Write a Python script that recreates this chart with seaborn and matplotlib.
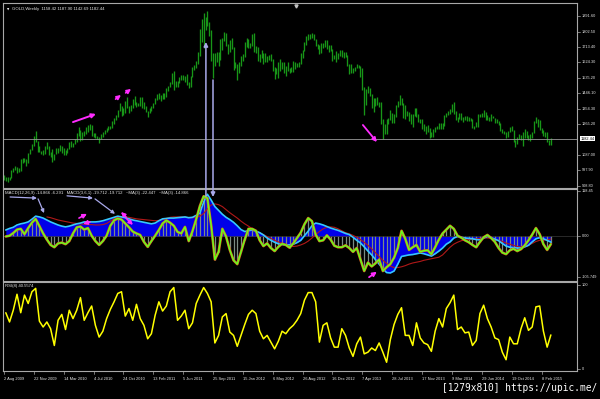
import numpy as np
import matplotlib
matplotlib.use("Agg")
import matplotlib.pyplot as plt
import seaborn as sns
from matplotlib.patches import ConnectionPatch

# ---------------- data ----------------
header_price = "GOLD,Weekly  1158.42 1187.90 1142.69 1182.44"
header_macd = "MACD(12,26,9) -14.866 -6.291   MACD(3,6,1) -19.712 -19.712   ~MA(3) -22.447   ~MA(3) -14.866"
header_rsi = "RSI(8) 40.5574"
current_price = 1182.44

# weekly bars, one per week starting week of 2 Aug 2009
lows = [940, 937, 931, 942, 952, 987, 998, 985, 990, 997, 1039, 1044, 1025, 1043, 1090, 1115, 1140, 1160, 1103, 1106, 1094,
        1088, 1095, 1120, 1086, 1075, 1045, 1058, 1090, 1096, 1112, 1100, 1086, 1088, 1101, 1122, 1132, 1132, 1152, 1163, 1195,
        1166, 1175, 1199, 1209, 1220, 1230, 1200, 1192, 1185, 1178, 1157, 1180, 1192, 1210, 1221, 1232, 1237, 1242, 1267, 1290,
        1310, 1340, 1316, 1318, 1330, 1362, 1329, 1340, 1358, 1375, 1366, 1369, 1374,
        1360, 1352, 1336, 1309, 1331, 1340, 1358, 1384, 1405, 1412, 1403, 1414, 1413, 1426, 1456, 1482, 1501, 1462, 1480, 1479,
        1507, 1520, 1522, 1510, 1495, 1478, 1481, 1540, 1581, 1592, 1616, 1660, 1742, 1705, 1811, 1835, 1780, 1630, 1534, 1603,
        1628, 1605, 1637, 1695, 1746, 1717, 1672, 1684, 1703, 1580, 1589, 1523,
        1563, 1605, 1631, 1653, 1714, 1705, 1705, 1722, 1687, 1680, 1635, 1627, 1650, 1612, 1628, 1626, 1639, 1633, 1575, 1527,
        1554, 1532, 1576, 1586, 1562, 1547, 1575, 1564, 1571, 1569, 1585, 1599, 1598, 1613, 1648, 1688, 1725, 1756, 1760, 1768,
        1752, 1717, 1700, 1672, 1676, 1706, 1713, 1704, 1683, 1690, 1635, 1645,
        1626, 1645, 1664, 1655, 1650, 1655, 1603, 1555, 1565, 1563, 1575, 1590, 1591, 1540, 1463, 1321, 1375, 1445, 1427, 1359,
        1338, 1372, 1377, 1366, 1269, 1180, 1207, 1211, 1268, 1292, 1270, 1275, 1309, 1364, 1375, 1379, 1304, 1294, 1314, 1283,
        1268, 1251, 1313, 1310, 1277, 1271, 1240, 1227, 1211, 1221, 1185, 1192,
        1194, 1218, 1237, 1236, 1237, 1240, 1258, 1307, 1320, 1324, 1336, 1326, 1290, 1277, 1298, 1292, 1277, 1291, 1285, 1282,
        1284, 1246, 1240, 1250, 1251, 1308, 1310, 1305, 1292, 1288, 1282, 1286, 1299, 1273, 1275, 1260, 1229, 1214, 1207, 1183,
        1189, 1218, 1226, 1161, 1131, 1150, 1180, 1174, 1142, 1187, 1187, 1173,
        1167, 1186, 1216, 1275, 1252, 1232, 1217, 1197, 1191, 1164, 1147, 1142.69]
highs = [972, 961, 959, 962, 999, 1011, 1025, 1017, 1011, 1063, 1072, 1070, 1065, 1100, 1124, 1153, 1195, 1226, 1168, 1142, 1113,
         1116, 1140, 1162, 1139, 1102, 1123, 1095, 1125, 1128, 1145, 1138, 1128, 1114, 1130, 1163, 1169, 1159, 1182, 1212, 1249,
         1232, 1219, 1227, 1250, 1262, 1265, 1262, 1214, 1216, 1200, 1193, 1211, 1219, 1233, 1242, 1255, 1258, 1283, 1300, 1321,
         1349, 1387, 1371, 1360, 1398, 1424, 1372, 1378, 1410, 1431, 1394, 1390, 1424,
         1423, 1394, 1372, 1345, 1360, 1370, 1391, 1420, 1440, 1445, 1436, 1447, 1448, 1476, 1488, 1509, 1563, 1577, 1518, 1514,
         1539, 1549, 1549, 1546, 1556, 1510, 1544, 1598, 1610, 1632, 1682, 1815, 1877, 1912, 1885, 1921, 1860, 1814, 1680, 1676,
         1687, 1685, 1760, 1767, 1803, 1794, 1731, 1755, 1765, 1716, 1624, 1614,
         1626, 1661, 1672, 1740, 1764, 1760, 1738, 1790, 1792, 1717, 1715, 1673, 1695, 1679, 1677, 1661, 1668, 1673, 1645, 1597,
         1594, 1627, 1641, 1629, 1628, 1605, 1627, 1594, 1598, 1630, 1626, 1623, 1625, 1676, 1694, 1741, 1777, 1790, 1788, 1796,
         1788, 1760, 1730, 1725, 1737, 1738, 1754, 1754, 1724, 1723, 1699, 1667,
         1693, 1680, 1695, 1697, 1683, 1684, 1669, 1612, 1617, 1590, 1596, 1616, 1611, 1604, 1590, 1480, 1469, 1488, 1477, 1438,
         1416, 1417, 1424, 1392, 1397, 1298, 1268, 1297, 1300, 1348, 1333, 1324, 1379, 1400, 1434, 1420, 1390, 1375, 1345, 1338,
         1325, 1326, 1361, 1361, 1323, 1295, 1293, 1264, 1255, 1261, 1245, 1218,
         1240, 1250, 1256, 1271, 1275, 1270, 1321, 1332, 1345, 1355, 1385, 1392, 1340, 1308, 1331, 1331, 1306, 1315, 1315, 1306,
         1300, 1295, 1257, 1277, 1322, 1325, 1332, 1346, 1339, 1320, 1310, 1322, 1316, 1304, 1293, 1287, 1272, 1236, 1225, 1222,
         1228, 1249, 1255, 1233, 1176, 1191, 1207, 1205, 1221, 1238, 1225, 1205,
         1208, 1223, 1282, 1307, 1296, 1288, 1242, 1233, 1220, 1222, 1175, 1187.90]

# indicator values, one every second week (weeks 1, 3, 5, ...)
macd_fast = [0, 2, 9, 18, 20, 6, 22, 36, 46, 27, 8, -8, -22, -28, -18, -16, -20, -12, 8, 24,
             26, 18, 22, 2, -12, -22, -12, 2, 28, 42, 47, 44, 34, 24, 13, 8, 4, -14, -27, -12,
             2, 17, 34, 42, 36, 28, 12, 8, 25, -12, 14, 45, 80, 105, 100, 30, -60, -40, 20, 0,
             -35, -62, -72, -40, -8, 20, 20, 15, -10, -25, -18, -30, -38, -27, -19, -22, -29, -18, -4, 10,
             32, 48, 40, 5, -12, -10, 3, -8, -24, -28, -28, -23, -30, -40, -30, -60, -90, -68, -78, -70,
             -60, -90, -80, -72, -55, -30, 15, -6, -35, -28, -22, -40, -37, -36, -46, -28, -8, 8, 18, 28,
             20, 2, -3, -10, -15, -22, -28, -14, -2, 4, -4, -14, -30, -42, -46, -36, -32, -38, -33, -23,
             -10, 5, 22, 6, -20, -35, -20]
macd_main = [17, 21, 24, 30, 33, 35, 38, 45, 53, 51, 48, 43, 38, 34, 30, 27, 25, 27, 30, 33,
             35, 38, 38, 38, 38, 39, 41, 44, 47, 50, 53, 51, 49, 46, 43, 41, 39, 37, 35, 33,
             35, 41, 46, 47, 48, 48, 49, 50, 51, 49, 50, 55, 61, 90, 110, 95, 78, 68, 58, 50,
             44, 37, 28, 18, 13, 15, 17, 14, 10, 4, -4, -10, -15, -19, -21, -22, -22, -20, -16, -10,
             2, 14, 28, 35, 33, 30, 26, 22, 19, 16, 12, 8, 5, -2, -10, -17, -27, -38, -48, -60,
             -72, -84, -94, -95, -90, -72, -52, -50, -48, -47, -45, -43, -45, -48, -51, -45, -38, -30, -20, -14,
             -4, 0, -2, -4, -5, -6, -8, -9, -4, 0, -3, -7, -11, -18, -25, -28, -29, -30, -30, -27,
             -23, -14, -6, -3, -6, -10, -14.866]
macd_signal = [None] * 11 + [
    51, 49, 46, 43, 41, 39, 37, 35, 34,
    33, 32, 31, 31, 30, 30, 31, 34, 40, 46, 51, 52, 51, 50, 48, 46, 45, 44, 43, 42,
    41, 42, 44, 47, 50, 51, 51, 51, 50, 49, 49, 50, 53, 60, 72, 82, 85, 83, 78, 70,
    62, 55, 48, 40, 33, 27, 20, 14, 10, 5, 0, -5, -10, -14, -18, -21, -24, -26, -25, -22,
    -18, -12, -4, 5, 13, 20, 24, 25, 24, 20, 15, 10, 7, 3, -2, -8, -15, -23, -32, -42,
    -52, -62, -70, -77, -81, -81, -79, -76, -72, -69, -67, -65, -62, -60, -58, -56, -54, -48, -38, -28,
    -20, -15, -11, -9, -8, -7, -6, -5, -4, -4, -5, -7, -10, -13, -17, -20, -23, -26, -27, -26,
    -23, -18, -13, -10, -9, -9, -6.291]
rsi = [67, 56, 70, 89, 67, 88, 78, 92, 96, 57, 50, 56, 48, 28, 58, 65, 47, 70, 60, 70,
       85, 58, 67, 75, 52, 38, 45, 60, 71, 80, 90, 92, 63, 72, 58, 77, 60, 52, 36, 42,
       64, 80, 69, 75, 92, 97, 58, 63, 70, 48, 55, 78, 88, 97, 90, 80, 31, 40, 62, 66,
       44, 40, 27, 40, 53, 65, 70, 66, 45, 36, 40, 32, 24, 33, 45, 42, 48, 52, 58, 66,
       82, 91, 91, 80, 32, 52, 55, 37, 26, 26, 48, 40, 25, 15, 30, 38, 18, 20, 25, 22,
       31, 20, 8, 35, 53, 65, 73, 40, 40, 28, 55, 37, 31, 29, 21, 45, 60, 50, 72, 79,
       88, 47, 50, 43, 44, 28, 34, 66, 76, 60, 50, 37, 35, 20, 11, 38, 30, 30, 48, 61,
       46, 50, 74, 75, 45, 26, 40.5574]

price_tick_values = [908.80, 997.90, 1087.00, 1265.20, 1354.30, 1446.10, 1535.20, 1624.30, 1713.40, 1802.50, 1891.60]
price_tick_labels = ["908.80", "997.90", "1087.00", "1265.20", "1354.30", "1446.10", "1535.20", "1624.30",
                     "1713.40", "1802.50", "1891.60"]
macd_tick_values = [118.45, 0.0, -105.749]
macd_tick_labels = ["118.45", "0.00", "-105.749"]
rsi_tick_values = [100, 0]
rsi_tick_labels = ["100", "0"]
date_labels = ["2 Aug 2009", "22 Nov 2009", "14 Mar 2010", "4 Jul 2010", "24 Oct 2010", "13 Feb 2011",
               "5 Jun 2011", "25 Sep 2011", "15 Jan 2012", "6 May 2012", "26 Aug 2012", "16 Dec 2012",
               "7 Apr 2013", "28 Jul 2013", "17 Nov 2013", "9 Mar 2014", "29 Jun 2014", "19 Oct 2014",
               "8 Feb 2015"]
date_label_weeks = [0, 16, 32, 48, 64, 80, 96, 112, 128, 144, 160, 176, 192, 208, 224, 240, 256, 272, 288]
watermark = "[1279x810] https://upic.me/"

# ---------------- style ----------------
sns.set_style("dark", {"axes.facecolor": "black", "figure.facecolor": "black"})
plt.rcParams["font.family"] = ["Liberation Sans", "DejaVu Sans"]

W, H = 600, 399
fig = plt.figure(figsize=(6, 3.99), dpi=100, facecolor="black")


def px_axes(x0, y0, x1, y1):
    return fig.add_axes([x0 / W, 1 - y1 / H, (x1 - x0) / W, (y1 - y0) / H])


ax_p = px_axes(3, 3, 577, 188)
ax_m = px_axes(3, 189, 577, 281)
ax_r = px_axes(3, 282, 577, 371)

XLIM = (-0.5, 307)
SPINE = "#a8a8a8"
TXT = "#e6e6e6"
LAB = 2.8

n = min(len(lows), len(highs))
weeks = np.arange(n)
slot_weeks = np.arange(len(rsi)) * 2 + 1

# ---- price panel ----
ax_p.vlines(weeks, lows[:n], highs[:n], color="#189618", lw=0.95)
ax_p.axhline(current_price, color="#9a9a9a", lw=0.6)
ax_p.set_ylim(895.5, 1968.5)

# ---- MACD panel ----
mm = np.array(macd_main, dtype=float)
mf = np.array(macd_fast, dtype=float)
ax_m.fill_between(slot_weeks, 0, mm, color="#0000e8", lw=0)
ax_m.vlines(slot_weeks, 0, mf, color="#7c8c84", lw=0.9)
ax_m.axhline(0, color="#3a3a3a", lw=0.5)
sig = [(w, v) for w, v in zip(slot_weeks, macd_signal) if v is not None]
sns.lineplot(x=[s[0] for s in sig], y=[s[1] for s in sig], ax=ax_m, color="#b01818", lw=0.8,
             errorbar=None, sort=False, legend=False)
sns.lineplot(x=slot_weeks, y=mm, ax=ax_m, color="#35c8ff", lw=1.2, errorbar=None, sort=False, legend=False)
sns.lineplot(x=slot_weeks, y=mf, ax=ax_m, color="#d8561a", lw=1.9, errorbar=None, sort=False, legend=False)
sns.lineplot(x=slot_weeks, y=mf, ax=ax_m, color="#66ff1e", lw=1.1, errorbar=None, sort=False, legend=False)
ax_m.set_ylim(-116.0, 123.8)

# ---- RSI panel ----
sns.lineplot(x=slot_weeks, y=rsi, ax=ax_r, color="#ffff00", lw=1.1, errorbar=None, sort=False, legend=False)
ax_r.set_ylim(-2.4, 103.6)

for ax in (ax_p, ax_m, ax_r):
    ax.set_facecolor("black")
    ax.set_xlim(*XLIM)
    ax.set_xticks([])
    ax.set_yticks([])
    ax.set_xlabel("")
    ax.set_ylabel("")
    ax.grid(False)
    for s in ax.spines.values():
        s.set_color(SPINE)
        s.set_linewidth(0.8)
        s.set_visible(True)

# right-side scale labels
for ax, vals, labs in ((ax_p, price_tick_values, price_tick_labels),
                       (ax_m, macd_tick_values, macd_tick_labels),
                       (ax_r, rsi_tick_values, rsi_tick_labels)):
    tr = ax.get_yaxis_transform()
    for v, s in zip(vals, labs):
        ax.plot([1.0, 1.006], [v, v], transform=tr, color=SPINE, lw=0.5, clip_on=False)
        ax.text(1.008, v, s, transform=tr, color=TXT, fontsize=LAB, va="center", ha="left", clip_on=False)

ax_p.text(1.006, current_price, "1182.44", transform=ax_p.get_yaxis_transform(), color="black",
          fontsize=LAB, va="center", ha="left", clip_on=False,
          bbox=dict(facecolor="white", edgecolor="none", pad=0.4))

# headers
ax_p.text(0.0075, 0.975, "\u25bc", transform=ax_p.transAxes, color="white", fontsize=2.2,
          va="top", ha="left", family="DejaVu Sans")
ax_p.text(0.016, 0.978, header_price, transform=ax_p.transAxes, color=TXT, fontsize=3.1, va="top", ha="left")
ax_m.text(0.004, 0.975, header_macd, transform=ax_m.transAxes, color=TXT, fontsize=3.1, va="top", ha="left")
ax_r.text(0.004, 0.975, header_rsi, transform=ax_r.transAxes, color=TXT, fontsize=3.1, va="top", ha="left")

# date axis
trx = ax_r.get_xaxis_transform()
for w, s in zip(date_label_weeks, date_labels):
    ax_r.plot([w, w], [0, -0.035], transform=trx, color=SPINE, lw=0.5, clip_on=False)
    ax_r.text(w, -0.085, s, transform=trx, color=TXT, fontsize=2.9, va="center", ha="left", clip_on=False)

# drawn objects: magenta arrows
MAG = "#ff2cff"
LAV = "#a9a9ea"


def arrow(ax, p_from, p_to, color, lw, ms):
    ax.annotate("", xy=p_to, xytext=p_from,
                arrowprops=dict(arrowstyle="-|>", color=color, lw=lw, mutation_scale=ms,
                                shrinkA=0, shrinkB=0))


arrow(ax_p, (37.0, 1278), (49.3, 1325), MAG, 1.4, 6)
arrow(ax_p, (59.8, 1411), (62.7, 1435), MAG, 1.2, 6)
arrow(ax_p, (65.2, 1447), (68.1, 1470), MAG, 1.2, 6)
arrow(ax_p, (192.3, 1261), (199.8, 1162), MAG, 1.3, 6)

arrow(ax_m, (40.2, 48), (44.5, 59), MAG, 1.2, 6)
arrow(ax_m, (46.1, 38), (42.4, 33), MAG, 1.2, 6)
arrow(ax_m, (65.4, 51), (62.7, 64), MAG, 1.2, 6)
arrow(ax_m, (65.4, 48), (69.1, 30), MAG, 1.2, 6)
arrow(ax_m, (195.6, -106), (199.8, -92), MAG, 1.3, 6)

# lavender arrows in MACD panel
arrow(ax_m, (3.3, 103), (17.7, 100), LAV, 0.9, 5)
arrow(ax_m, (18.3, 98), (21.5, 61), LAV, 0.9, 5)
arrow(ax_m, (33.8, 106), (47.7, 100), LAV, 0.9, 5)
arrow(ax_m, (48.8, 98), (59.5, 59), LAV, 0.9, 5)

# long lavender arrows across panels
for (wa, va_), (wb, vb), axA, axB in (((108.2, 105), (108.2, 1742), ax_m, ax_p),
                                       ((112.0, 1522), (112.0, 103), ax_p, ax_m)):
    con = ConnectionPatch(xyA=(wa, va_), coordsA="data", axesA=axA,
                          xyB=(wb, vb), coordsB="data", axesB=axB,
                          arrowstyle="-|>", color=LAV, lw=1.1, mutation_scale=6,
                          shrinkA=0, shrinkB=0)
    fig.add_artist(con)

# small chart-shift marker at the top
ax_p.plot([156.5], [0.985], transform=ax_p.get_xaxis_transform(), marker="v", ms=2.2,
          color="#c0c0c0", clip_on=False)

fig.text(597 / W, 1 - 388 / H, watermark, color="white", fontsize=6.85, family="DejaVu Sans Mono",
         va="center", ha="right")

fig.savefig("out.png", dpi=100, facecolor="black")
